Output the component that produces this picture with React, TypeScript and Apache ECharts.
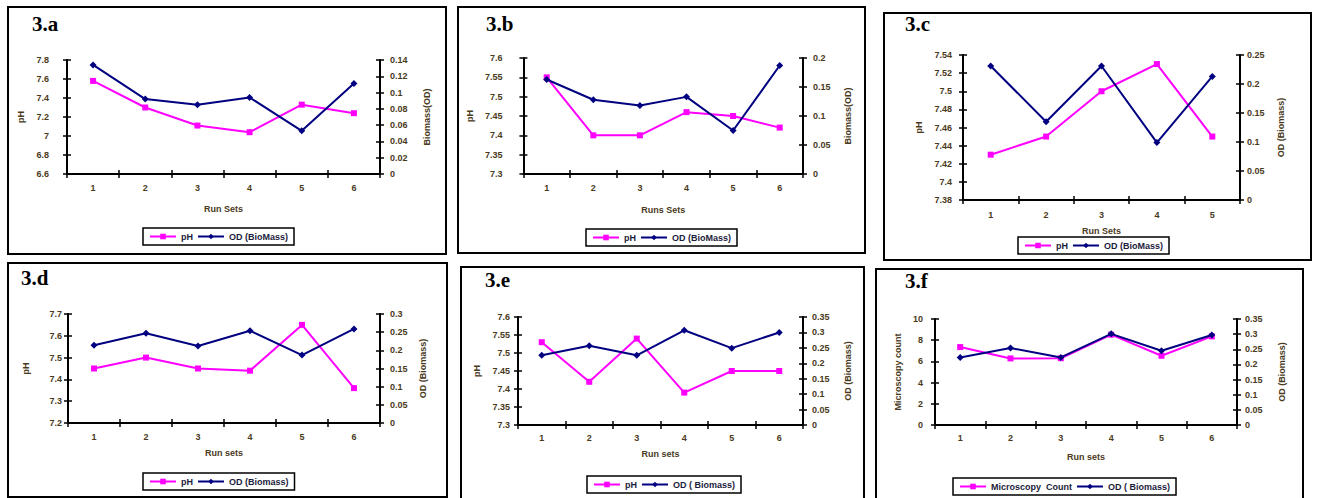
import React, { useEffect, useRef } from "react";
import * as echarts from "echarts";

// ---------- data ----------
const runs6 = ["1", "2", "3", "4", "5", "6"];
const runs5 = ["1", "2", "3", "4", "5"];

const phA = [7.58, 7.3, 7.11, 7.04, 7.33, 7.24];
const odA = [0.134, 0.092, 0.085, 0.094, 0.053, 0.111];

const phB = [7.55, 7.4, 7.4, 7.46, 7.45, 7.42];
const odB = [0.163, 0.128, 0.118, 0.133, 0.075, 0.187];

const phC = [7.43, 7.45, 7.5, 7.53, 7.45];
const odC = [0.231, 0.135, 0.231, 0.099, 0.213];

const phD = [7.45, 7.5, 7.45, 7.44, 7.65, 7.36];
const odD = [0.214, 0.247, 0.212, 0.254, 0.187, 0.259];

const phE = [7.53, 7.42, 7.54, 7.39, 7.45, 7.45];
const odE = [0.226, 0.257, 0.226, 0.307, 0.249, 0.3];

const countF = [7.35, 6.28, 6.3, 8.52, 6.53, 8.36];
const odF = [0.223, 0.254, 0.223, 0.301, 0.245, 0.297];

// ---------- layout / styling ----------
type Panel = {
  label: string;
  box: number[]; // x0,y0,x1,y1 (border centre, page coords)
  grid: number[]; // left, top, width, height (relative)
  labelPos: number[];
  legendPos: number[];
  cats: string[];
  s1: number[];
  s2: number[];
  s1Name: string;
  s2Name: string;
  left: { min: number; max: number; interval: number; margin: number; name: string; gap: number };
  right: { min: number; max: number; interval: number; margin: number; name: string; gap: number };
  xName: string;
  xGap: number;
  xMargin: number;
};

const panels: Panel[] = [
  {
    label: "3.a", box: [8, 7, 446, 254], grid: [60, 54, 313, 114], labelPos: [25, 18], legendPos: [136, 222],
    cats: runs6, s1: phA, s2: odA, s1Name: "pH", s2Name: "OD (BioMass)",
    left: { min: 6.6, max: 7.8, interval: 0.2, margin: 18, name: "pH", gap: 40 },
    right: { min: 0, max: 0.14, interval: 0.02, margin: 10, name: "Biomass(OD)", gap: 42 },
    xName: "Run Sets", xGap: 30, xMargin: 9,
  },
  {
    label: "3.b", box: [458, 7, 865, 253], grid: [62, 52, 284, 116], labelPos: [29, 18], legendPos: [129, 223],
    cats: runs6, s1: phB, s2: odB, s1Name: "pH", s2Name: "OD (BioMass)",
    left: { min: 7.3, max: 7.6, interval: 0.05, margin: 21, name: "pH", gap: 41 },
    right: { min: 0, max: 0.2, interval: 0.05, margin: 10, name: "Biomass(OD)", gap: 40 },
    xName: "Runs Sets", xGap: 31, xMargin: 9,
  },
  {
    label: "3.c", box: [884, 13, 1311, 260], grid: [80, 43, 277, 145], labelPos: [22, 12], legendPos: [135, 225],
    cats: runs5, s1: phC, s2: odC, s1Name: "pH", s2Name: "OD (BioMass)",
    left: { min: 7.38, max: 7.54, interval: 0.02, margin: 11, name: "pH", gap: 33 },
    right: { min: 0, max: 0.25, interval: 0.05, margin: 7, name: "OD (Biomass)", gap: 36 },
    xName: "Run Sets", xGap: 26, xMargin: 10,
  },
  {
    label: "3.d", box: [8, 263, 447, 497], grid: [61, 52, 312, 109], labelPos: [14, 16], legendPos: [136, 211],
    cats: runs6, s1: phD, s2: odD, s1Name: "pH", s2Name: "OD (Biomass)",
    left: { min: 7.2, max: 7.7, interval: 0.1, margin: 6, name: "pH", gap: 38 },
    right: { min: 0, max: 0.3, interval: 0.05, margin: 10, name: "OD (Biomass)", gap: 37 },
    xName: "Run sets", xGap: 25, xMargin: 9,
  },
  {
    label: "3.e", box: [461, 267, 864, 500], grid: [58, 51, 285, 108], labelPos: [25, 14], legendPos: [127, 210],
    cats: runs6, s1: phE, s2: odE, s1Name: "pH", s2Name: "OD ( Biomass)",
    left: { min: 7.3, max: 7.6, interval: 0.05, margin: 8, name: "pH", gap: 25 },
    right: { min: 0, max: 0.35, interval: 0.05, margin: 9, name: "OD (Biomass)", gap: 40 },
    xName: "Run sets", xGap: 24, xMargin: 8,
  },
  {
    label: "3.f", box: [876, 269, 1303, 500], grid: [60, 51, 302, 106], labelPos: [30, 13], legendPos: [78, 210],
    cats: runs6, s1: countF, s2: odF, s1Name: "Microscopy  Count", s2Name: "OD ( Biomass)",
    left: { min: 0, max: 10, interval: 2, margin: 12, name: "Microscopy count", gap: 33 },
    right: { min: 0, max: 0.35, interval: 0.05, margin: 8, name: "OD (Biomass)", gap: 40 },
    xName: "Run sets", xGap: 27, xMargin: 8,
  },
];

const FONT = "Liberation Sans";
const LABEL_COLOR = "#4a3a1c";
const PINK = "#ff00ff";
const NAVY = "#000080";

function buildOption(p: Panel) {
  const w = p.box[2] - p.box[0] + 2;
  const h = p.box[3] - p.box[1] + 2;
  const axisLine = { show: true, onZero: false, lineStyle: { color: "#000", width: 2 } };
  const tick = (inside: boolean) => ({ show: true, inside, length: 4, lineStyle: { color: "#000", width: 1.5 } });
  const labelStyle = { fontSize: 9, fontWeight: "bold", color: LABEL_COLOR, fontFamily: FONT };
  const nameStyle = { fontSize: 9, fontWeight: "bold", color: LABEL_COLOR, fontFamily: FONT };

  const yMain = (ax: Panel["left"], pos: string) => ({
    type: "value", position: pos, min: ax.min, max: ax.max, interval: ax.interval,
    axisLine, axisTick: tick(false), splitLine: { show: false },
    axisLabel: { ...labelStyle, margin: ax.margin },
    name: ax.name, nameLocation: "middle", nameGap: ax.gap, nameRotate: 90, nameTextStyle: nameStyle,
  });
  const yDup = (ax: Panel["left"], pos: string) => ({
    type: "value", position: pos, min: ax.min, max: ax.max, interval: ax.interval,
    axisLine: { show: false }, axisTick: tick(true), splitLine: { show: false }, axisLabel: { show: false },
  });

  return {
    animation: false,
    graphic: [
      {
        type: "rect", silent: true,
        shape: { x: 1, y: 1, width: w - 2, height: h - 2 },
        style: { fill: "transparent", stroke: "#000", lineWidth: 2 },
      },
      {
        type: "text", silent: true, x: p.labelPos[0], y: p.labelPos[1],
        style: { text: p.label, font: "bold 21px 'Liberation Serif'", fill: "#000", verticalAlign: "middle" },
      },
    ],
    grid: { left: p.grid[0], top: p.grid[1], width: p.grid[2], height: p.grid[3] },
    xAxis: [
      {
        type: "category", data: p.cats, position: "bottom", boundaryGap: true,
        axisLine, axisTick: tick(false), splitLine: { show: false },
        axisLabel: { ...labelStyle, margin: p.xMargin },
        name: p.xName, nameLocation: "middle", nameGap: p.xGap, nameTextStyle: nameStyle,
      },
      {
        type: "category", data: p.cats, position: "bottom", boundaryGap: true,
        axisLine: { show: false }, axisTick: tick(true), axisLabel: { show: false }, splitLine: { show: false },
      },
    ],
    yAxis: [yMain(p.left, "left"), yMain(p.right, "right"), yDup(p.left, "left"), yDup(p.right, "right")],
    legend: {
      left: p.legendPos[0], top: p.legendPos[1], orient: "horizontal",
      padding: [4, 6], borderColor: "#000", borderWidth: 1.5, backgroundColor: "#fff",
      itemWidth: 26, itemHeight: 7, itemGap: 4,
      textStyle: { fontSize: 9, color: "#1c1c3c", fontFamily: FONT, fontWeight: "bold" },
      data: [p.s1Name, p.s2Name],
    },
    series: [
      {
        type: "line", name: p.s1Name, xAxisIndex: 0, yAxisIndex: 0, data: p.s1,
        symbol: "rect", symbolSize: 6,
        lineStyle: { color: PINK, width: 2 }, itemStyle: { color: PINK }, z: 2,
      },
      {
        type: "line", name: p.s2Name, xAxisIndex: 0, yAxisIndex: 1, data: p.s2,
        symbol: "diamond", symbolSize: 7,
        lineStyle: { color: NAVY, width: 2 }, itemStyle: { color: NAVY }, z: 3,
      },
    ],
  };
}

function PanelChart({ p }: { p: Panel }) {
  const ref = useRef<HTMLDivElement>(null);
  const w = p.box[2] - p.box[0] + 2;
  const h = p.box[3] - p.box[1] + 2;
  useEffect(() => {
    if (!ref.current) return;
    const chart = echarts.init(ref.current, undefined, { renderer: "svg" });
    chart.setOption(buildOption(p) as any);
    return () => chart.dispose();
  }, [p]);
  return (
    <div
      ref={ref}
      style={{ position: "absolute", left: p.box[0] - 1, top: p.box[1] - 1, width: w, height: h }}
    />
  );
}

export default function App() {
  return (
    <div
      style={{
        position: "fixed", left: 0, top: 0, width: 1317, height: 498,
        background: "#fff", overflow: "hidden",
      }}
    >
      {panels.map((p) => (
        <PanelChart key={p.label} p={p} />
      ))}
    </div>
  );
}
